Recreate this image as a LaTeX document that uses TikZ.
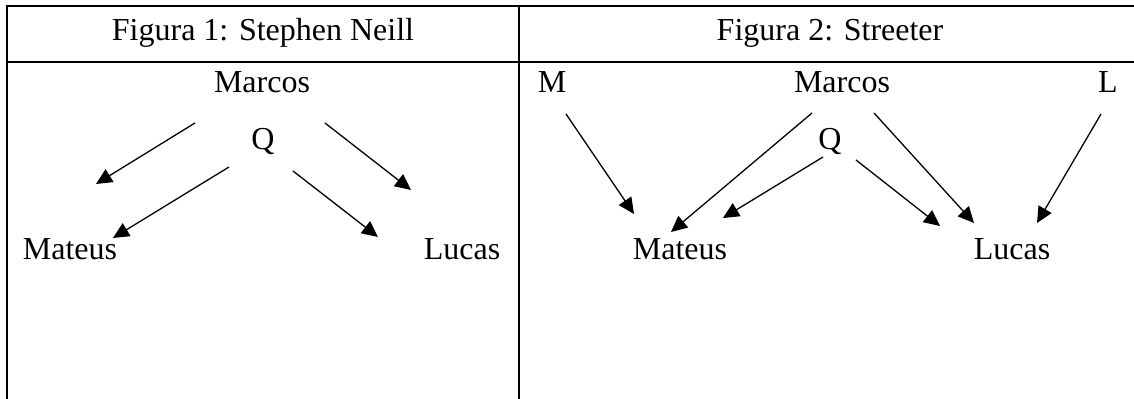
\documentclass[tikz,border=0pt]{standalone}
\usepackage{fontspec}
\setmainfont{Liberation Serif}
\usetikzlibrary{arrows.meta}
\tikzset{lbl/.style={anchor=base,inner sep=0pt,font=\fontsize{16}{19}\selectfont}}
\tikzset{arr/.style={-{Triangle[length=8pt,width=7.5pt]},line width=0.65pt}}
\tikzset{rule/.style={line width=1.1pt}}

\begin{document}
\begin{tikzpicture}[x=0.5pt,y=-0.5pt]
    \useasboundingbox (0,0) rectangle (1134,399);

    % table lines
    \draw[rule] (7,399) -- (7,6) -- (1134,6);
    \draw[rule] (7,62) -- (1134,62);
    \draw[rule] (519,6) -- (519,399);

    % Figura 1
    \foreach \pos/\name/\txt in {{(263,41)/hd1/{Figura 1: Stephen Neill}}, {(262,93)/mc1/Marcos},
        {(263,150)/q1/Q}, {(70,260)/mt1/Mateus}, {(462,260)/lc1/Lucas}}
        \node[lbl] (\name) at \pos {\txt};

    % Figura 2
    \foreach \pos/\name/\txt in {{(830,41)/hd2/{Figura 2: Streeter}}, {(552,93)/m2/M},
        {(842,93)/mc2/Marcos}, {(1108,93)/l2/L}, {(830,150)/q2/Q},
        {(680,260)/mt2/Mateus}, {(1012,260)/lc2/Lucas}}
        \node[lbl] (\name) at \pos {\txt};

    % arrow ends
    \foreach \x/\y/\name in {195/123/a1, 96/184/b1, 229/167/a2, 113/238/b2,
        325/123/a3, 411/190/b3, 293/171/a4, 378/237/b4}
        \coordinate (\name) at (\x,\y);
    \foreach \x/\y/\name in {566/114/c1, 634/214/d1, 812/113/c2, 671/232/d2,
        823/157/c3, 723/218/d3, 856/160/c4, 940/226/d4,
        874/113/c5, 974/223/d5, 1101/114/c6, 1037/223/d6}
        \coordinate (\name) at (\x,\y);

    \draw[arr] (a1) -- (b1);
    \draw[arr] (a2) -- (b2);
    \draw[arr] (a3) -- (b3);
    \draw[arr] (a4) -- (b4);

    \draw[arr] (c1) -- (d1);
    \draw[arr] (c2) -- (d2);
    \draw[arr] (c3) -- (d3);
    \draw[arr] (c4) -- (d4);
    \draw[arr] (c5) -- (d5);
    \draw[arr] (c6) -- (d6);

\end{tikzpicture}
\end{document}
